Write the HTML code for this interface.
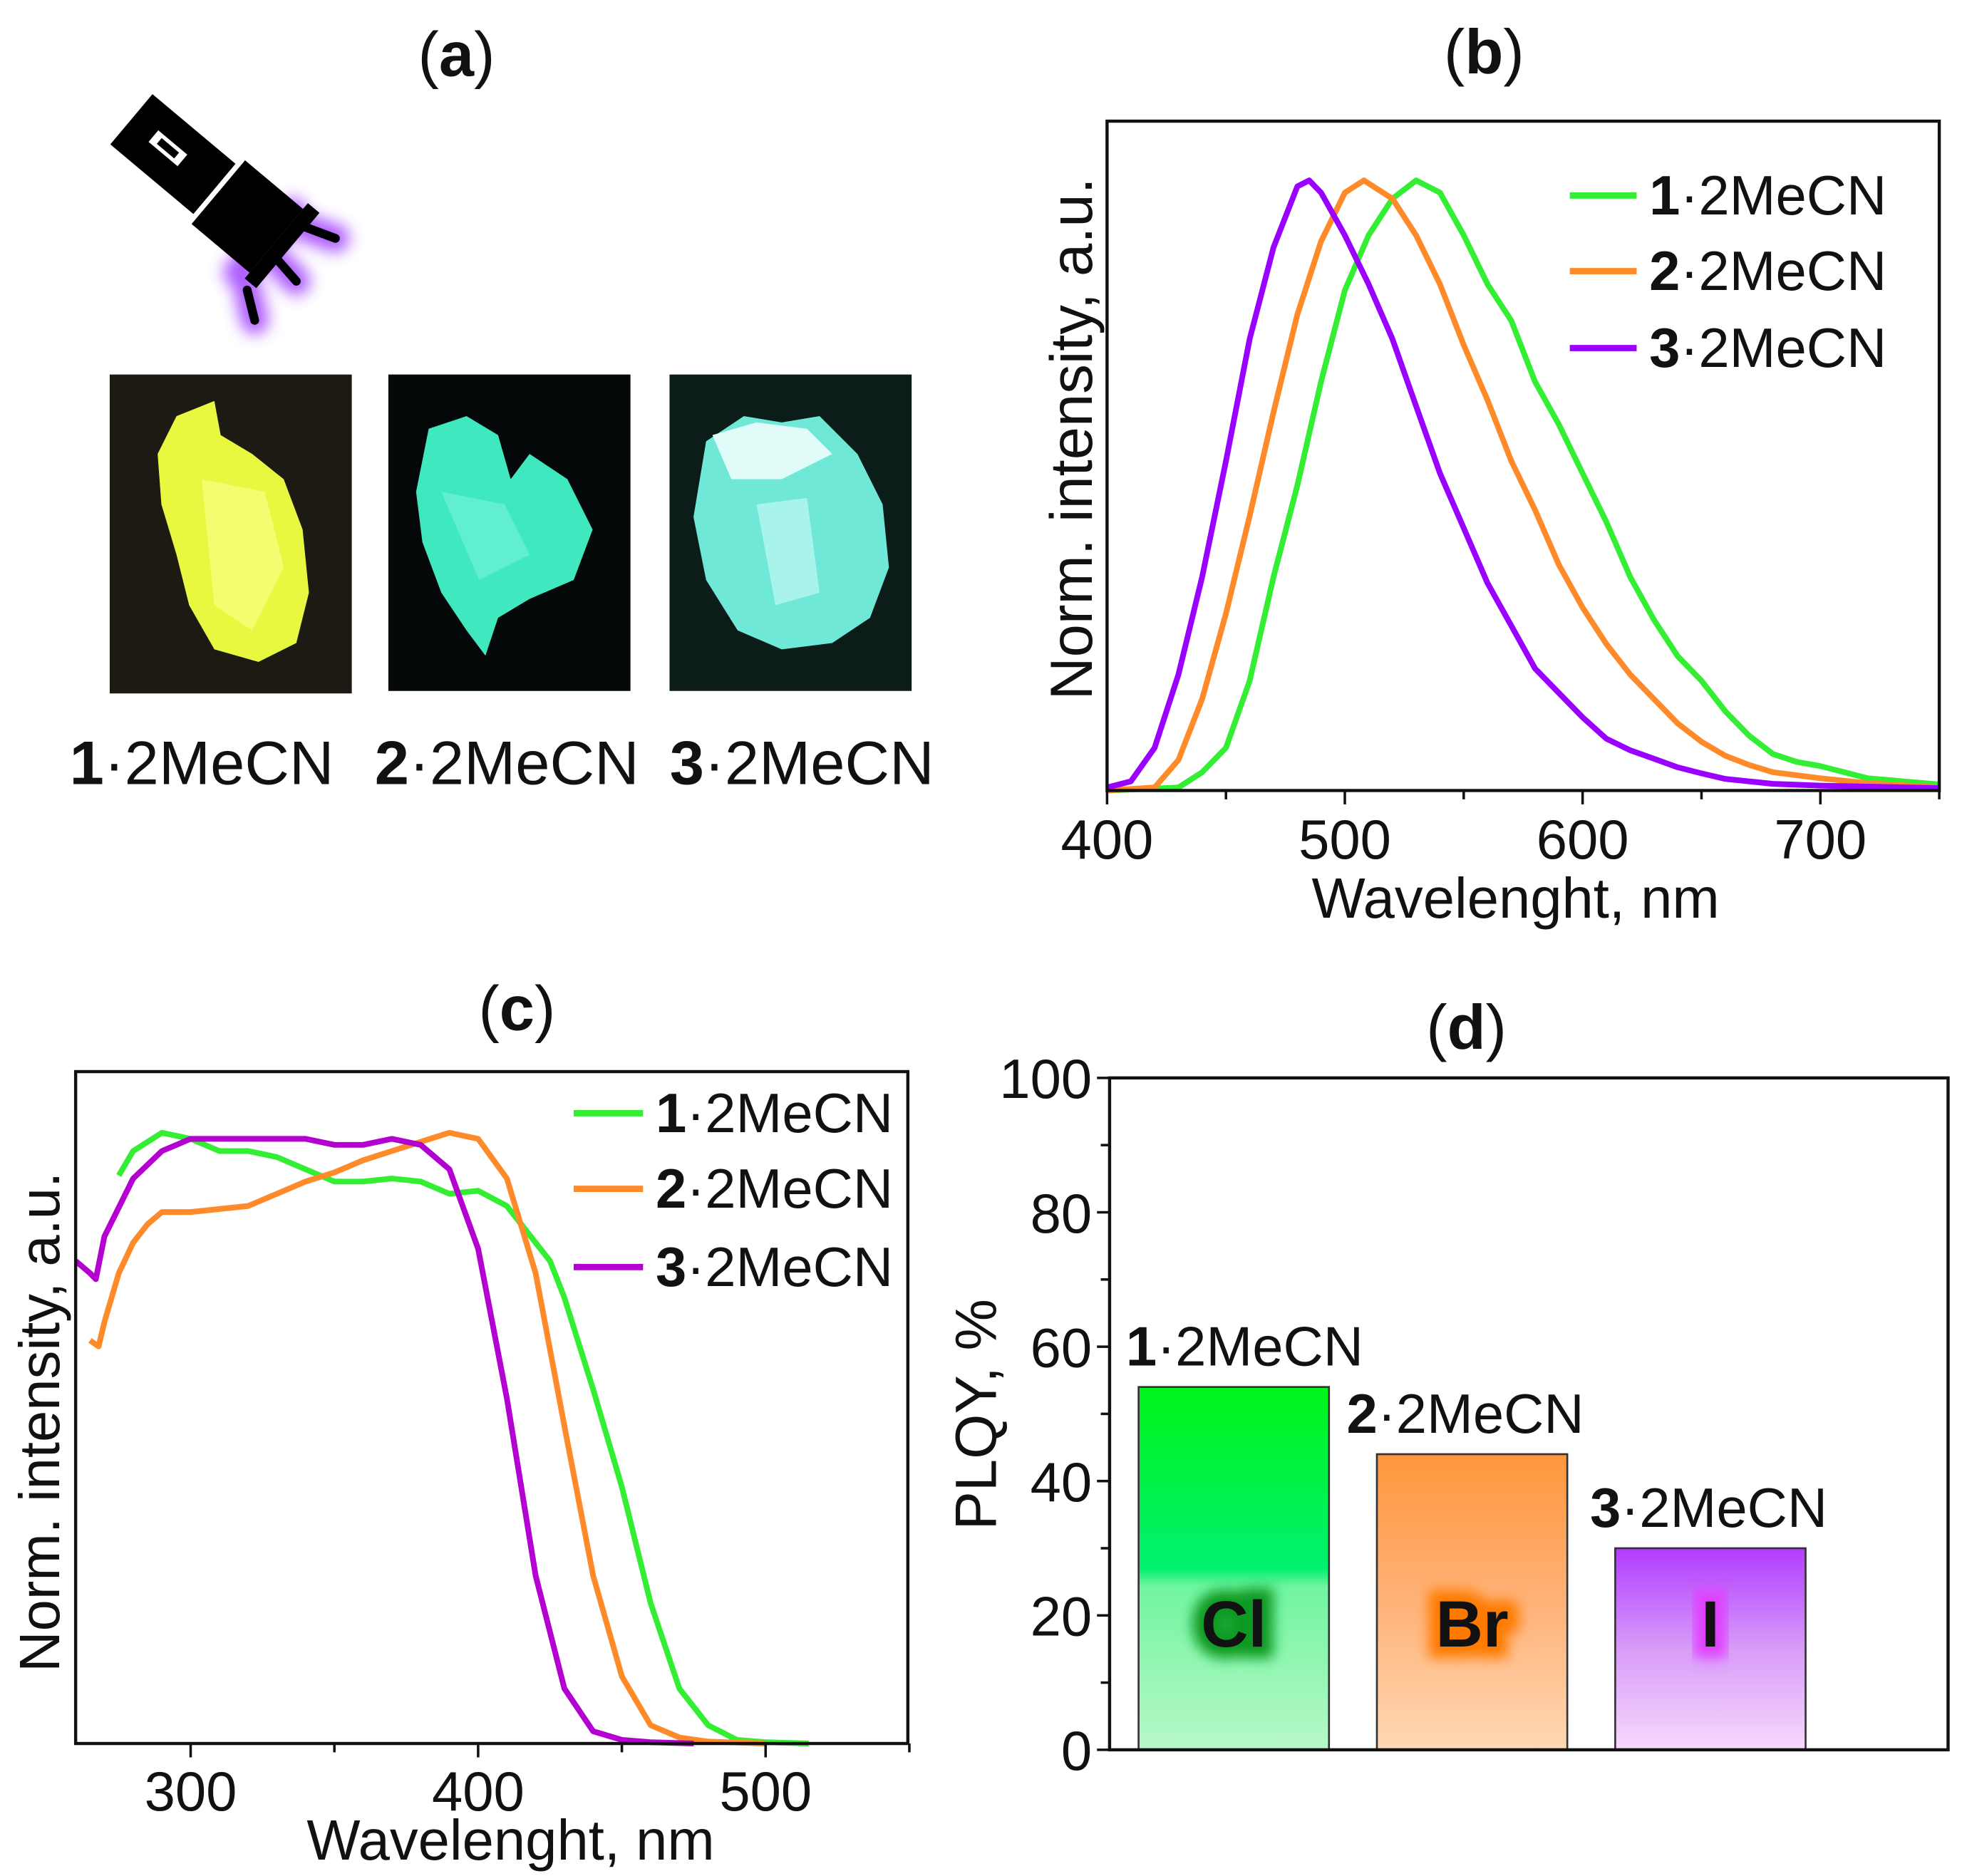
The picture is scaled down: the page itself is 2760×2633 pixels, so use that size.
<!DOCTYPE html>
<html><head><meta charset="utf-8"><style>
html,body{margin:0;padding:0;background:#fff}
svg{display:block}
text{font-family:"Liberation Sans",sans-serif;fill:#111}
</style></head><body>
<svg id="fig" width="2760" height="2633" viewBox="0 0 1560 1488" xmlns="http://www.w3.org/2000/svg">
<defs>
<filter id="glow" x="-50%" y="-50%" width="200%" height="200%"><feGaussianBlur stdDeviation="6"/></filter>
<filter id="glow2" x="-50%" y="-50%" width="200%" height="200%"><feGaussianBlur stdDeviation="5"/></filter>
<linearGradient id="gG" x1="0" y1="0" x2="0" y2="1"><stop offset="0" stop-color="#00f51a"/><stop offset="0.5" stop-color="#00f070"/><stop offset="0.55" stop-color="#70f5a0"/><stop offset="1" stop-color="#b8f8c8"/></linearGradient>
<linearGradient id="gO" x1="0" y1="0" x2="0" y2="1"><stop offset="0" stop-color="#ff963c"/><stop offset="0.5" stop-color="#ffb278"/><stop offset="1" stop-color="#ffd8b4"/></linearGradient>
<linearGradient id="gP" x1="0" y1="0" x2="0" y2="1"><stop offset="0" stop-color="#b23cff"/><stop offset="0.5" stop-color="#d89cf8"/><stop offset="1" stop-color="#f6d8fc"/></linearGradient>
</defs>

<!-- Panel a -->
<g>
<text x="362" y="60" font-size="50" text-anchor="middle">(<tspan font-weight="bold">a</tspan>)</text>
<g>
<g stroke="#a040ff" stroke-width="22" stroke-linecap="round" opacity="0.85" filter="url(#glow)" fill="none">
<line x1="240" y1="180" x2="266" y2="189"/><line x1="220" y1="207" x2="235" y2="223"/><line x1="196" y1="228" x2="202" y2="254"/>
<line x1="232" y1="168" x2="188" y2="216"/>
</g>
<g transform="rotate(40 160 140)">
<rect x="88" y="115" width="86" height="52" fill="#000"/>
<rect x="178" y="108" width="60" height="66" fill="#000"/>
<rect x="238" y="102" width="12" height="78" fill="#000"/>
<rect x="110" y="134" width="30" height="12" fill="#fff"/><rect x="116" y="137" width="18" height="6" fill="#000"/>
</g>
<g stroke="#000" stroke-width="7" stroke-linecap="round">
<line x1="242" y1="180" x2="266" y2="189"/><line x1="221" y1="207" x2="235" y2="223"/><line x1="196" y1="230" x2="202" y2="254"/>
</g>
</g>
<g>
<rect x="87" y="297" width="192" height="253" fill="#1c1a12"/>
<path d="M140,330 L170,318 L175,345 L200,360 L225,380 L240,420 L245,470 L235,510 L205,525 L170,515 L150,480 L140,440 L128,400 L125,360 Z" fill="#e8f840"/>
<path d="M160,380 L210,390 L225,450 L200,500 L170,480 Z" fill="#f4fc70"/>
</g>
<g>
<rect x="308" y="297" width="192" height="251" fill="#050808"/>
<path d="M340,340 L370,330 L395,345 L405,380 L420,360 L450,380 L470,420 L455,460 L420,475 L395,490 L385,520 L370,500 L350,470 L335,430 L330,390 Z" fill="#40e8c0"/>
<path d="M350,390 L400,400 L420,440 L380,460 Z" fill="#60f0d0"/>
</g>
<g>
<rect x="531" y="297" width="192" height="251" fill="#0c1c18"/>
<path d="M560,350 L590,330 L620,335 L650,330 L680,360 L700,400 L705,450 L690,490 L660,510 L620,515 L585,500 L560,460 L550,410 Z" fill="#70e8d8"/>
<path d="M565,345 L600,335 L640,340 L660,360 L620,380 L580,380 Z" fill="#e0fbf8"/>
<path d="M600,400 L640,395 L650,470 L615,480 Z" fill="#a8f4ec"/>
</g>
<text x="160" y="622" font-size="49" text-anchor="middle"><tspan font-weight="bold">1</tspan>·2MeCN</text>
<text x="402" y="622" font-size="49" text-anchor="middle"><tspan font-weight="bold">2</tspan>·2MeCN</text>
<text x="636" y="622" font-size="49" text-anchor="middle"><tspan font-weight="bold">3</tspan>·2MeCN</text>
</g>

<!-- Panel b -->
<g id="pb">
<text x="1177" y="58" font-size="50" text-anchor="middle">(<tspan font-weight="bold">b</tspan>)</text>
<text transform="translate(866,348) rotate(-90)" font-size="47" text-anchor="middle">Norm. intensity, a.u.</text>
<text x="1202" y="728" font-size="45" text-anchor="middle">Wavelenght, nm</text>
<g id="pb-lines"></g><g id="pb-ticks"></g>
<rect x="878" y="96" width="660" height="531" fill="none" stroke="#111" stroke-width="2.5"/>
<g>
<line x1="1245" y1="155" x2="1298" y2="155" stroke="#33ee33" stroke-width="5"/>
<text x="1308" y="170" font-size="44"><tspan font-weight="bold">1</tspan>·2MeCN</text>
<line x1="1245" y1="215" x2="1298" y2="215" stroke="#ff8a2a" stroke-width="5"/>
<text x="1308" y="230" font-size="44"><tspan font-weight="bold">2</tspan>·2MeCN</text>
<line x1="1245" y1="276" x2="1298" y2="276" stroke="#9a00ff" stroke-width="5"/>
<text x="1308" y="291" font-size="44"><tspan font-weight="bold">3</tspan>·2MeCN</text>
</g>
</g>

<!-- Panel c -->
<g id="pc">
<text x="410" y="817" font-size="50" text-anchor="middle">(<tspan font-weight="bold">c</tspan>)</text>
<text transform="translate(47,1128) rotate(-90)" font-size="45" text-anchor="middle">Norm. intensity, a.u.</text>
<text x="405" y="1475" font-size="45" text-anchor="middle">Wavelenght, nm</text>
<g id="pc-lines"></g><g id="pc-ticks"></g>
<rect x="60" y="850" width="660" height="533" fill="none" stroke="#111" stroke-width="2.5"/>
<g>
<line x1="455" y1="883" x2="510" y2="883" stroke="#33ee33" stroke-width="5"/>
<text x="520" y="898" font-size="44"><tspan font-weight="bold">1</tspan>·2MeCN</text>
<line x1="455" y1="943" x2="510" y2="943" stroke="#ff8a2a" stroke-width="5"/>
<text x="520" y="958" font-size="44"><tspan font-weight="bold">2</tspan>·2MeCN</text>
<line x1="455" y1="1005" x2="510" y2="1005" stroke="#b400d0" stroke-width="5"/>
<text x="520" y="1020" font-size="44"><tspan font-weight="bold">3</tspan>·2MeCN</text>
</g>
</g>

<!-- Panel d -->
<g id="pd">
<text x="1163" y="832" font-size="50" text-anchor="middle">(<tspan font-weight="bold">d</tspan>)</text>
<text transform="translate(790,1122) rotate(-90)" font-size="46" text-anchor="middle">PLQY, %</text>
<g id="pd-bars"></g><g id="pd-ticks"></g>
<rect x="880" y="855" width="665" height="533" fill="none" stroke="#111" stroke-width="2.5"/>
</g>
</svg>
<script>
// ---- Panel b data (emission) ----
const bWl1 = [400,430,440,450,460,470,480,490,500,510,520,530,540,550,560,570,580,590,600,610,620,630,640,650,660,670,680,690,700,720,750];
const bI1  = [0,0.005,0.03,0.07,0.18,0.35,0.5,0.67,0.82,0.91,0.97,1.0,0.98,0.91,0.83,0.77,0.67,0.6,0.52,0.44,0.35,0.28,0.22,0.18,0.13,0.09,0.06,0.047,0.04,0.02,0.01];
const bWl2 = [400,420,430,440,450,460,470,480,490,500,508,520,530,540,550,560,570,580,590,600,610,620,630,640,650,660,670,680,700,720,750];
const bI2  = [0,0.005,0.05,0.15,0.29,0.45,0.62,0.78,0.9,0.98,1.0,0.97,0.91,0.83,0.73,0.64,0.54,0.46,0.37,0.3,0.24,0.19,0.15,0.11,0.08,0.057,0.042,0.03,0.02,0.012,0.005];
const bWl3 = [400,410,420,430,440,450,460,470,480,485,490,500,510,520,530,540,550,560,570,580,590,600,610,620,630,640,650,660,680,700,750];
const bI3  = [0.005,0.015,0.07,0.19,0.35,0.54,0.74,0.89,0.99,1.0,0.98,0.91,0.83,0.74,0.63,0.52,0.43,0.34,0.27,0.2,0.16,0.12,0.085,0.066,0.052,0.038,0.028,0.019,0.011,0.008,0.004];
const bTicks = [400,500,600,700];
// ---- Panel c data (excitation) ----
const cWl1 = [275,280,290,300,310,320,330,340,350,360,370,380,390,400,410,420,425,430,440,450,460,470,480,490,500,515];
const cI1  = [0.93,0.97,1.0,0.99,0.97,0.97,0.96,0.94,0.92,0.92,0.925,0.92,0.9,0.905,0.88,0.82,0.79,0.73,0.58,0.42,0.23,0.09,0.03,0.006,0.002,0];
const cWl2 = [265,268,270,275,280,285,290,300,310,320,330,340,350,360,370,380,390,400,410,420,430,440,450,460,470,480,500];
const cI2  = [0.66,0.65,0.69,0.77,0.82,0.85,0.87,0.87,0.875,0.88,0.9,0.92,0.935,0.955,0.97,0.985,1.0,0.99,0.925,0.77,0.52,0.275,0.11,0.03,0.01,0.003,0];
const cWl3 = [260,265,267,270,280,290,300,310,320,330,340,350,360,370,380,390,400,410,420,430,440,450,460,475];
const cI3  = [0.79,0.77,0.76,0.83,0.925,0.97,0.99,0.99,0.99,0.99,0.99,0.98,0.98,0.99,0.98,0.94,0.81,0.565,0.275,0.09,0.02,0.006,0.002,0];
const cTicks = [300,400,500];
// ---- Panel d data (PLQY) ----
const dCats = ['1·2MeCN','2·2MeCN','3·2MeCN'];
const dVals = [54,44,30];
const dHal = ['Cl','Br','I'];
const dTicks = [0,20,40,60,80,100];

const NS='http://www.w3.org/2000/svg';
function mk(tag,attrs,parent){const e=document.createElementNS(NS,tag);for(const k in attrs)e.setAttribute(k,attrs[k]);parent.appendChild(e);return e;}

const bx=v=>878+(v-400)*(1538-878)/350, by=v=>627-v*484;
const cx=v=>60+(v-260)*(228/100), cy=v=>1383-v*(533/1.1);
const dy=v=>1388-v*5.33;

function drawLine(g,xs,ys,fx,fy,color,name){
  const d=xs.map((x,i)=>(i?'L':'M')+fx(x).toFixed(1)+','+fy(ys[i]).toFixed(1)).join(' ');
  const p=mk('path',{d:d,fill:'none',stroke:color,'stroke-width':4.5,'stroke-linejoin':'round'},g);
  
  
}
const pbl=document.getElementById('pb-lines');
drawLine(pbl,bWl1,bI1,bx,by,'#33ee33','b-series-1');
drawLine(pbl,bWl2,bI2,bx,by,'#ff8a2a','b-series-2');
drawLine(pbl,bWl3,bI3,bx,by,'#9a00ff','b-series-3');
const pbt=document.getElementById('pb-ticks');
for(let v=400;v<=750;v+=50){const l=mk('line',{x1:bx(v),x2:bx(v),y1:627,y2:v%100?634:638,stroke:'#111','stroke-width':2},pbt);
  
  }
bTicks.forEach(v=>{const t=mk('text',{x:bx(v),y:681,'font-size':44,'text-anchor':'middle'},pbt);t.textContent=v;
  
  });

const pcl=document.getElementById('pc-lines');
drawLine(pcl,cWl1,cI1,cx,cy,'#33ee33','c-series-1');
drawLine(pcl,cWl2,cI2,cx,cy,'#ff8a2a','c-series-2');
drawLine(pcl,cWl3,cI3,cx,cy,'#b400d0','c-series-3');
const pct=document.getElementById('pc-ticks');
for(let v=300;v<=550;v+=50){const l=mk('line',{x1:cx(v),x2:cx(v),y1:1383,y2:v%100?1390:1394,stroke:'#111','stroke-width':2},pct);
  
  }
cTicks.forEach(v=>{const t=mk('text',{x:cx(v),y:1436,'font-size':44,'text-anchor':'middle'},pct);t.textContent=v;
  
  });

const pdb=document.getElementById('pd-bars'), pdt=document.getElementById('pd-ticks');
const bx0=[903,1092,1281], bw=151, grads=['url(#gG)','url(#gO)','url(#gP)'], glows=['#0a9a20','#ff7a00','#e040ff'];
const lblOff=[-10,-24,-20];
dVals.forEach((v,i)=>{
  const r=mk('rect',{x:bx0[i],y:dy(v),width:bw,height:dy(0)-dy(v),fill:grads[i],stroke:'#333','stroke-width':1.5},pdb);
  
  
  const g=mk('text',{x:bx0[i]+bw/2,y:1306,'font-size':52,'font-weight':'bold','text-anchor':'middle',fill:glows[i],stroke:glows[i],'stroke-width':18,filter:'url(#glow2)'},pdb);
  g.textContent=dHal[i];
  
  
  const h=mk('text',{x:bx0[i]+bw/2,y:1306,'font-size':52,'font-weight':'bold','text-anchor':'middle'},pdb);
  h.textContent=dHal[i];
  
  
  const t=mk('text',{x:bx0[i]+lblOff[i],y:dy(v)-17,'font-size':44},pdb);
  const s=mk('tspan',{'font-weight':'bold'},t);s.textContent=dCats[i].split('·')[0];
  t.appendChild(document.createTextNode('·'+dCats[i].split('·')[1]));
  
  
});
for(let v=0;v<=100;v+=10){const l=mk('line',{x1:v%20?873:870,x2:880,y1:dy(v),y2:dy(v),stroke:'#111','stroke-width':2},pdt);
  
  }
dTicks.forEach(v=>{const t=mk('text',{x:866,y:dy(v)+16,'font-size':44,'text-anchor':'end'},pdt);t.textContent=v;
  
  });
</script>
</body></html>
